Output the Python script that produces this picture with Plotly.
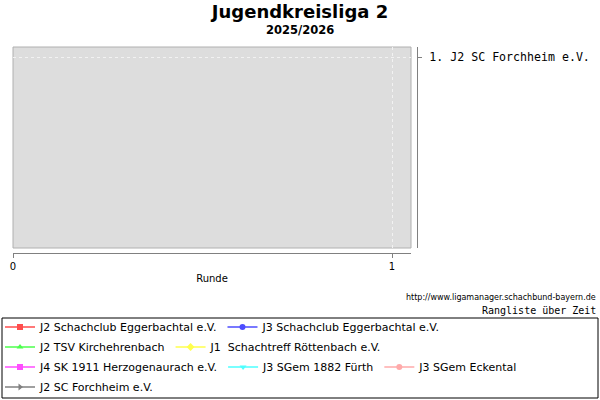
import plotly.graph_objects as go

# ---- data ----
title = "Jugendkreisliga 2"
season = "2025/2026"
teams = [
    "J2 Schachclub Eggerbachtal e.V.",
    "J3 Schachclub Eggerbachtal e.V.",
    "J2 TSV Kirchehrenbach",
    "J1  Schachtreff Röttenbach e.V.",
    "J4 SK 1911 Herzogenaurach e.V.",
    "J3 SGem 1882 Fürth",
    "J3 SGem Eckental",
    "J2 SC Forchheim e.V.",
]
colors = ["#ff4d4d", "#4d4dff", "#4dff4d", "#ffff4d", "#ff4dff", "#4dffff", "#ffaaaa", "#808080"]
symbols = ["square", "circle", "triangle-up", "diamond", "square", "triangle-down", "circle", "triangle-right"]
rounds = [1]                        # round 1 not yet played
ranks = {t: [None] for t in teams}  # no ranking values yet
x_ticks = [0, 1]
rank_ticks = [1]
rank_labels = ["1. J2 SC Forchheim e.V."]
legend_rows = [0, 0, 1, 1, 2, 2, 2, 3]

W, H = 600, 400
def px(x):
    return x / W
def py(y):
    return 1 - y / H

fig = go.Figure()
for i, t in enumerate(teams):
    row = legend_rows[i]
    fig.add_trace(go.Scatter(
        x=rounds, y=ranks[t], name=t, mode="lines+markers",
        line=dict(color=colors[i], width=1.5),
        marker=dict(color=colors[i], symbol=symbols[i], size=6),
        legend="legend" if row == 0 else f"legend{row+1}",
        showlegend=True,
    ))

row_y = [327, 347, 367, 387]
leg_common = dict(orientation="h", xref="paper", yref="paper", xanchor="left",
                  yanchor="middle", bgcolor="rgba(0,0,0,0)", borderwidth=0,
                  font=dict(family="DejaVu Sans", size=11, color="#000"),
                  itemwidth=30, tracegroupgap=0, itemclick=False)
legends = {}
for r in range(4):
    key = "legend" if r == 0 else f"legend{r+1}"
    legends[key] = dict(leg_common, x=px(0), y=py(row_y[r]))

fig.update_layout(
    width=W, height=H,
    margin=dict(l=0, r=0, t=0, b=0, autoexpand=False),
    paper_bgcolor="white", plot_bgcolor="rgba(0,0,0,0)",
    font=dict(family="DejaVu Sans", size=10, color="#000"),
    showlegend=True,
    **legends,
    xaxis=dict(domain=[px(13), px(411)], range=[0, 1.05], tickvals=x_ticks, ticktext=[str(v) for v in x_ticks],
               showgrid=True, gridcolor="#f2f2f2", griddash="3px,3px", gridwidth=1, zeroline=False,
               showline=True, linecolor="#808080", linewidth=1,
               ticks="outside", ticklen=4, tickcolor="#808080",
               anchor="free", position=py(253),
               title=dict(text="Runde", font=dict(size=10), standoff=3),
               tickfont=dict(size=10)),
    yaxis=dict(domain=[py(248), py(47)], range=[1.95, 0.95], tickvals=rank_ticks, ticktext=rank_labels,
               showgrid=True, gridcolor="#f2f2f2", griddash="3px,3px", gridwidth=1, zeroline=False,
               showline=True, linecolor="#808080", linewidth=1,
               ticks="outside", ticklen=4, tickcolor="#808080",
               side="right", anchor="free", position=px(417), ticklabelstandoff=5,
               tickfont=dict(family="DejaVu Sans Mono", size=11.6)),
    title=dict(text=title, x=0.5, xref="container", y=py(12), yref="container",
               xanchor="center", yanchor="middle",
               font=dict(family="DejaVu Sans", size=18, color="#000", weight="bold")),
)

fig.add_shape(type="rect", xref="x domain", yref="y domain", x0=0, x1=1, y0=0, y1=1,
              fillcolor="#dddddd", line=dict(color="#b0b0b0", width=1), layer="below")
fig.add_shape(type="rect", xref="paper", yref="paper",
              x0=px(2), x1=px(598), y0=py(398), y1=py(318),
              line=dict(color="#000", width=1), fillcolor="rgba(0,0,0,0)")

fig.add_annotation(text="<b>" + season + "</b>", xref="paper", yref="paper",
                   x=px(300), y=py(30), showarrow=False,
                   font=dict(family="DejaVu Sans", size=11.5), xanchor="center", yanchor="middle")
fig.add_annotation(text="http://www.ligamanager.schachbund-bayern.de", xref="paper", yref="paper",
                   x=px(598), y=py(297), showarrow=False,
                   font=dict(family="DejaVu Sans", size=8), xanchor="right", yanchor="middle")
fig.add_annotation(text="Rangliste über Zeit", xref="paper", yref="paper",
                   x=px(598), y=py(310), showarrow=False,
                   font=dict(family="DejaVu Sans Mono", size=10), xanchor="right", yanchor="middle")

fig.write_html("out.html", config={"displayModeBar": False},
               post_script="document.body.style.margin='0';")
